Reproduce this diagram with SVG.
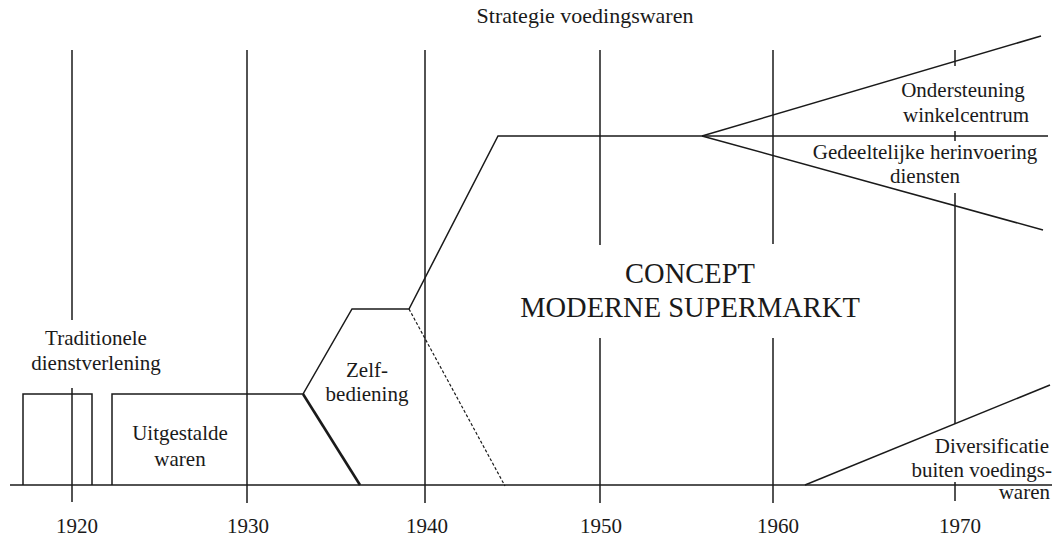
<svg xmlns="http://www.w3.org/2000/svg" width="1055" height="539" viewBox="0 0 1055 539">
<style>
.ln{stroke:#1a1a1a;stroke-width:1.5;fill:none}
.thick{stroke:#1a1a1a;stroke-width:2.6;fill:none}
.dash{stroke:#1a1a1a;stroke-width:1.2;fill:none;stroke-dasharray:3 2}
.t{font-family:'Liberation Serif','DejaVu Serif',serif;font-size:21px;fill:#1a1a1a;text-anchor:middle}
.big{font-size:28.5px}
.r{text-anchor:end}
.title{font-size:22px}
</style>
<rect width="1055" height="539" fill="#fff"/>
<g id="grid">
<line class="ln" x1="72" y1="50" x2="72" y2="320"/>
<line class="ln" x1="72" y1="388" x2="72" y2="502"/>
<line class="ln" x1="247" y1="50" x2="247" y2="503"/>
<line class="ln" x1="425" y1="50" x2="425" y2="503"/>
<line class="ln" x1="600" y1="50" x2="600" y2="245"/>
<line class="ln" x1="600" y1="338" x2="600" y2="503"/>
<line class="ln" x1="773" y1="50" x2="773" y2="244"/>
<line class="ln" x1="773" y1="338" x2="773" y2="503"/>
<line class="ln" x1="955" y1="50" x2="955" y2="66"/>
<line class="ln" x1="955" y1="131" x2="955" y2="141"/>
<line class="ln" x1="955" y1="193" x2="955" y2="424"/>
<line class="ln" x1="955" y1="482" x2="955" y2="501"/>
<line class="ln" x1="10" y1="485" x2="1052" y2="485"/>
</g>
<g id="connectors">
<polyline class="ln" points="23,485 23,394 92,394 92,485"/>
<polyline class="ln" points="112,485 112,394 303,394 352,309 409,309 498,136 1048,136"/>
<line class="thick" x1="303" y1="394" x2="360" y2="485"/>
<line class="dash" x1="409" y1="309" x2="505" y2="486"/>
<line class="ln" x1="702" y1="136" x2="1041" y2="36"/>
<line class="ln" x1="702" y1="136" x2="1043" y2="230"/>
<line class="ln" x1="805" y1="485" x2="1050" y2="385"/>
</g>
<g id="title"><text class="t title" x="585" y="23">Strategie voedingswaren</text></g>
<g id="traditionele"><text class="t" x="96" y="345">Traditionele</text><text class="t" x="96" y="370">dienstverlening</text></g>
<g id="uitgestalde"><text class="t" x="180" y="440">Uitgestalde</text><text class="t" x="180" y="466">waren</text></g>
<g id="zelfbediening"><text class="t" x="367" y="377">Zelf-</text><text class="t" x="367" y="401">bediening</text></g>
<g id="concept"><text class="t big" x="690" y="283">CONCEPT</text><text class="t big" x="690" y="317">MODERNE SUPERMARKT</text></g>
<g id="ondersteuning"><text class="t" x="963" y="97">Ondersteuning</text><text class="t" x="966" y="122">winkelcentrum</text></g>
<g id="gedeeltelijke"><text class="t" x="925" y="159">Gedeeltelijke herinvoering</text><text class="t" x="925" y="183">diensten</text></g>
<g id="diversificatie"><text class="t r" x="1049" y="453">Diversificatie</text><text class="t r" x="1052" y="477">buiten voedings-</text><text class="t r" x="1050" y="499">waren</text></g>
<g id="years">
<text class="t" x="77" y="533">1920</text>
<text class="t" x="248" y="533">1930</text>
<text class="t" x="427" y="533">1940</text>
<text class="t" x="601" y="533">1950</text>
<text class="t" x="778" y="533">1960</text>
<text class="t" x="960" y="533">1970</text>
</g>
</svg>
